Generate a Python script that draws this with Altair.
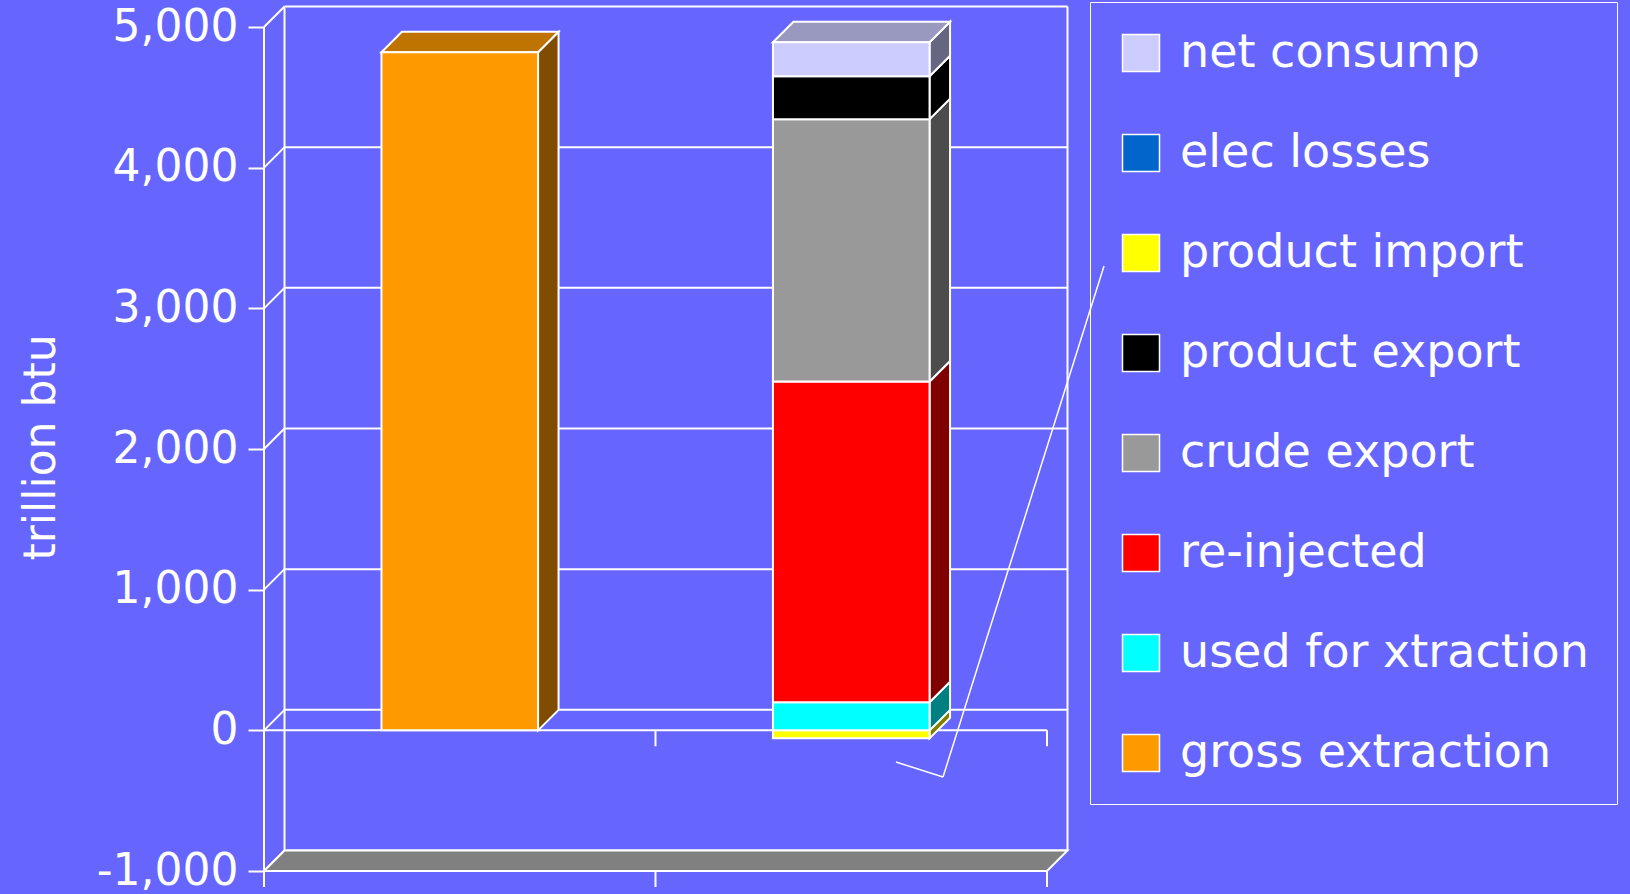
import altair as alt
import pandas as pd

# ---------------- data ----------------
legend_order = ["net consump", "elec losses", "product import", "product export",
                "crude export", "re-injected", "used for xtraction", "gross extraction"]
legend_colors = ["#CCCCFF", "#0066CC", "#FFFF00", "#000000",
                 "#999999", "#FF0000", "#00FFFF", "#FF9900"]

bar1_series = ["gross extraction"]
bar1_values = [4820]
bar2_series = ["product import", "used for xtraction", "re-injected", "crude export",
               "product export", "elec losses", "net consump"]
bar2_values = [-57, 200, 2280, 1865, 305, 0, 242]

y_ticks = [-1000, 0, 1000, 2000, 3000, 4000, 5000]
y_title = "trillion btu"

# ---------------- geometry / style ----------------
W, H = 783, 844
Y_MIN, Y_MAX = -1000, 5000
N_CAT = 2
PX_X = W / N_CAT
PX_Y = H / (Y_MAX - Y_MIN)
DEPTH_PX = 20.5
DX = DEPTH_PX / PX_X
DY = DEPTH_PX / PX_Y
TICK = 16 / PX_Y
BAR_HALF = 0.2
BG = "#6666FF"
FONT = "DejaVu Sans"


def shade(hexc, f):
    r, g, b = int(hexc[1:3], 16), int(hexc[3:5], 16), int(hexc[5:7], 16)
    return "#%02x%02x%02x" % (round(r * f), round(g * f), round(b * f))


color_of = dict(zip(legend_order, legend_colors))
front_rows, side_rows, top_rows = [], [], []
for i, (ser, vals) in enumerate([(bar1_series, bar1_values), (bar2_series, bar2_values)]):
    cx = i + 0.5
    xl, xr = cx - BAR_HALF, cx + BAR_HALF
    pos, neg = 0.0, 0.0
    top = None
    for s, v in zip(ser, vals):
        if v == 0:
            continue
        if v > 0:
            lo, hi = pos, pos + v
            pos = hi
        else:
            lo, hi = neg + v, neg
            neg = lo
        key = f"{i}-{s}"
        c = color_of[s]
        front_rows.append(dict(series=s, x=xl, x2=xr, y=lo, y2=hi))
        side_rows.append(dict(id=key, x=xr, y=lo, y2=hi, fill=shade(c, 0.5)))
        side_rows.append(dict(id=key, x=xr + DX, y=lo + DY, y2=hi + DY, fill=shade(c, 0.5)))
        if v > 0:
            top = (key, hi, c)
    if top is not None:
        key, hi, c = top
        top_rows.append(dict(id=key, y=hi, x=xl, x2=xr, fill=shade(c, 0.75)))
        top_rows.append(dict(id=key, y=hi + DY, x=xl + DX, x2=xr + DX, fill=shade(c, 0.75)))

front_df = pd.DataFrame(front_rows)
side_df = pd.DataFrame(side_rows)
top_df = pd.DataFrame(top_rows)

xs = alt.Scale(domain=[0, N_CAT], nice=False, zero=False)
ys = alt.Scale(domain=[Y_MIN, Y_MAX], nice=False, zero=False)
yaxis = alt.Axis(values=y_ticks,
                 labelExpr="replace(format(datum.value, ','), '\u2212', '-')",
                 domain=False, grid=False, tickSize=16, tickWidth=2, tickColor="white",
                 labelColor="white", labelFont=FONT, labelFontSize=44, labelPadding=10,
                 labelFlush=False, labelOverlap=False,
                 title=y_title, titleFont=FONT, titleFontSize=44, titleFontWeight="normal",
                 titleColor="white", titleAngle=270, titleX=-210, titleY=420,
                 titleAlign="center", titleBaseline="alphabetic")


def X(f="x"):
    return alt.X(f + ":Q", scale=xs, axis=None, stack=None)


def Y(f="y"):
    return alt.Y(f + ":Q", scale=ys, axis=yaxis, stack=None)


# back wall: horizontal gridlines on back
back_grid = pd.DataFrame({"x": [DX] * len(y_ticks), "x2": [N_CAT + DX] * len(y_ticks),
                          "y": [v + DY for v in y_ticks]})
l_back = alt.Chart(back_grid).mark_rule(color="white", strokeWidth=2).encode(
    x=X(), x2="x2:Q", y=Y())
# back wall vertical edges
back_edges = pd.DataFrame({"x": [DX, N_CAT + DX], "y": [Y_MIN + DY] * 2, "y2": [Y_MAX + DY] * 2})
l_back_e = alt.Chart(back_edges).mark_rule(color="white", strokeWidth=2).encode(
    x=X(), y=Y(), y2="y2:Q")
# left wall diagonals
diag = pd.DataFrame({"x": [0] * len(y_ticks), "x2": [DX] * len(y_ticks),
                     "y": y_ticks, "y2": [v + DY for v in y_ticks]})
l_diag = alt.Chart(diag).mark_rule(color="white", strokeWidth=2).encode(
    x=X(), x2="x2:Q", y=Y(), y2="y2:Q")
# floor
floor = pd.DataFrame({"y": [Y_MIN, Y_MIN + DY], "x": [0, DX], "x2": [N_CAT, N_CAT + DX]})
l_floor = alt.Chart(floor).mark_area(orient="horizontal", fill="#808080", stroke="white",
                                     strokeWidth=2, opacity=1).encode(
    y=Y(), x=X(), x2="x2:Q")
# front lines at 0 and -1000
front_lines = pd.DataFrame({"x": [0, 0], "x2": [N_CAT, N_CAT], "y": [0, Y_MIN]})
l_front = alt.Chart(front_lines).mark_rule(color="white", strokeWidth=2).encode(
    x=X(), x2="x2:Q", y=Y())
# front vertical axis
axis_line = pd.DataFrame({"x": [0], "y": [Y_MIN - TICK], "y2": [Y_MAX]})
l_axis = alt.Chart(axis_line).mark_rule(color="white", strokeWidth=2).encode(
    x=X(), y=Y(), y2="y2:Q")
# category ticks
cat_ticks = pd.DataFrame({"x": [1, 2, 1, 2], "y": [0, 0, Y_MIN, Y_MIN],
                          "y2": [-TICK, -TICK, Y_MIN - TICK, Y_MIN - TICK]})
l_cticks = alt.Chart(cat_ticks).mark_rule(color="white", strokeWidth=2).encode(
    x=X(), y=Y(), y2="y2:Q")

# bars
l_side = alt.Chart(side_df).mark_area(stroke="white", strokeWidth=2, opacity=1).encode(
    x=X(), y=Y(), y2="y2:Q", detail="id:N", fill=alt.Fill("fill:N", scale=None))
l_top = alt.Chart(top_df).mark_area(orient="horizontal", stroke="white", strokeWidth=2,
                                    opacity=1).encode(
    y=Y(), x=X(), x2="x2:Q", detail="id:N", fill=alt.Fill("fill:N", scale=None))
l_frontbar = alt.Chart(front_df).mark_rect(stroke="white", strokeWidth=2, opacity=1).encode(
    x=X(), x2="x2:Q", y=Y(), y2="y2:Q",
    color=alt.Color("series:N", scale=alt.Scale(domain=legend_order, range=legend_colors),
                    legend=alt.Legend(title=None, orient="none", legendX=826, legendY=-25,
                                      direction="vertical", symbolType="square",
                                      symbolSize=1369, symbolStrokeColor="white",
                                      symbolStrokeWidth=1.5,
                                      symbolOpacity=1, labelFont=FONT, labelFontSize=46,
                                      labelColor="white", labelOffset=16, rowPadding=54,
                                      padding=28, strokeColor="white",
                                      labelLimit=1000)))

# leader line from legend entry to the small import segment
lead = pd.DataFrame({"a": [0]})
l_lead1 = alt.Chart(lead).mark_rule(color="white", strokeWidth=1.5).encode(
    x=alt.value(840), y=alt.value(239), x2=alt.value(679), y2=alt.value(750))
l_lead2 = alt.Chart(lead).mark_rule(color="white", strokeWidth=1.5).encode(
    x=alt.value(679), y=alt.value(750), x2=alt.value(632), y2=alt.value(735))

chart = alt.layer(l_back, l_back_e, l_diag, l_floor, l_front, l_axis, l_cticks,
                  l_side, l_top, l_frontbar, l_lead1, l_lead2).properties(
    width=W, height=H,
    padding={"left": 264, "top": 27, "right": 1630 - 264 - W, "bottom": 894 - 27 - H},
    autosize=alt.AutoSizeParams(type="none"),
    background=BG,
).configure_view(strokeWidth=0)

chart.save("out.html", embed_options={"renderer": "svg", "actions": False})
